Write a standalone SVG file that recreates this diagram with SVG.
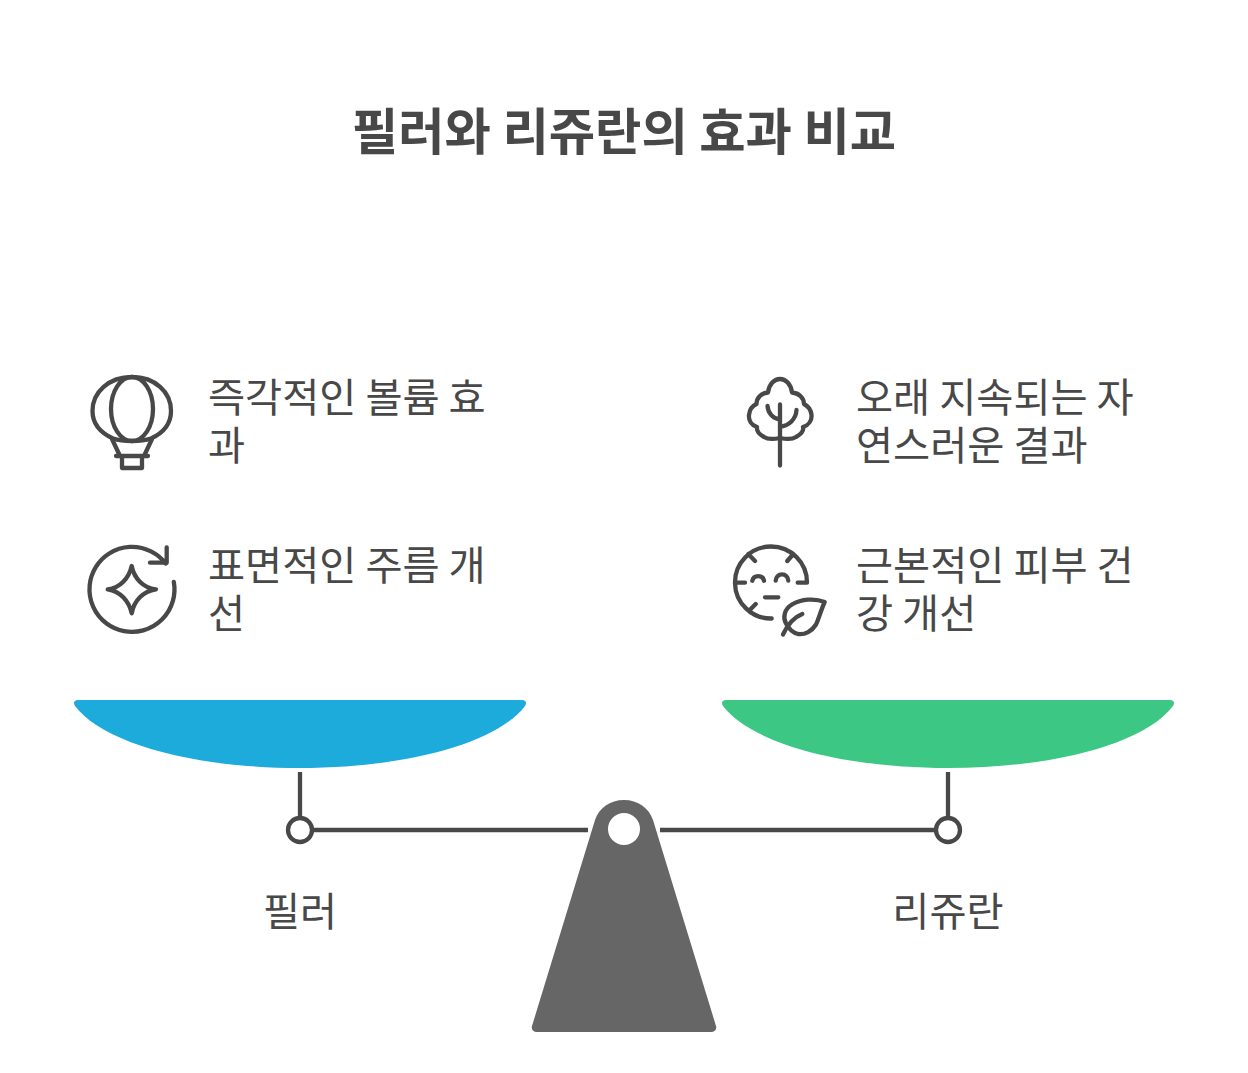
<svg xmlns="http://www.w3.org/2000/svg" width="1248" height="1073" viewBox="0 0 1248 1073">
<style>
text{font-family:"Noto Sans CJK KR","Noto Sans",sans-serif;fill:#484848}
.t{font-size:50.4px;font-weight:700;text-anchor:middle}
.l{font-size:40.32px;font-weight:400}
.c{text-anchor:middle}
.i{fill:none;stroke:#484848;stroke-width:4.3;stroke-linecap:round;stroke-linejoin:round}
.b{fill:none;stroke:#484848;stroke-width:4.3}
</style>
<rect width="1248" height="1073" fill="#fff"/>
<g id="title"><text class="t" x="624" y="149.500">필러와 리쥬란의 효과 비교</text></g>
<g id="connectors">
<path class="b" d="M300 772V818M312 830H588M660 830H936M948 772V818"/>
</g>
<g id="pan-left"><path fill="#1dabdc" d="M78 700H522C526 700 527 703 525 706C498 742 410 768 300 768C190 768 102 742 75 706C73 703 74 700 78 700Z"/></g>
<g id="pan-right"><path fill="#3dc785" d="M726 700H1170C1174 700 1175 703 1173 706C1146 742 1058 768 948 768C838 768 750 742 723 706C721 703 722 700 726 700Z"/></g>
<g id="pivot-left"><circle class="b" cx="300" cy="830" r="12" style="fill:#fff"/></g>
<g id="pivot-right"><circle class="b" cx="948" cy="830" r="12" style="fill:#fff"/></g>
<g id="fulcrum"><path fill="#666" fill-rule="evenodd" d="M595 820C599 808 610 800 624 800C638 800 649 808 653 820L716 1026C717 1029 715 1032 712 1032H536C533 1032 531 1029 532 1026ZM624 813A16 16 0 1 0 624 845A16 16 0 1 0 624 813Z"/></g>
<g id="label-filler"><text class="l c" x="300" y="926">필러</text></g>
<g id="label-rejuran"><text class="l c" x="948" y="925.500">리쥬란</text></g>
<g id="item-volume">
<path class="i" d="M132 377C109 377 92.500 392 92.500 411C92.500 424 101 433 113 438.500C119 440.500 125 441 132 441C139 441 145 440.500 151 438.500C163 433 171 424 171 411C171 392 155 377 132 377Z"/>
<ellipse class="i" cx="132" cy="409" rx="21" ry="32"/>
<path class="i" d="M112 439L120 456M152 439L144 456M116 456H148M122 456V468H142V456"/>
<text class="l" x="208" y="411.500">즉각적인 볼륨 효</text><text class="l" x="208" y="459.500">과</text>
</g>
<g id="item-wrinkle">
<path class="i" d="M173.800 581.800A42.500 42.500 0 1 1 165.700 563.500L166.700 562.700M166.700 547.300V562.700H150"/>
<path class="i" d="M131.700 566C134 578 143 588 156 589.300C143 591 134 601 131.700 613.300C129 601 120 591 107.700 589.300C120 588 129 578 131.700 566Z"/>
<text class="l" x="208" y="580">표면적인 주름 개</text><text class="l" x="208" y="628">선</text>
</g>
<g id="item-natural">
<path class="i" d="M780 438C775 439 768.500 440 764 437C758.500 434 756.500 431 757 427C751 425 748.500 420 749 415C749.500 410 752 406 756.500 404C756.500 398 761 393 768 392.500C769 384 774.500 379 780 379C785.500 379 791 384 792 392.500C799 393 804 398 804 404C808 406 811 410 811.500 415C812 420 809 425 803 427C804 431 801.500 434 796 437C791.500 440 785 439 780 438Z"/>
<path class="i" d="M780 404.500V465.500M767.500 406C768 413 773 419 780 419.500M796.500 410C796 419 789 426 780 426.500"/>
<text class="l" x="856" y="411.500">오래 지속되는 자</text><text class="l" x="856" y="459.500">연스러운 결과</text>
</g>
<g id="item-health">
<path class="i" d="M807 582.700A36 36 0 1 0 771.700 618.500M736.700 582.700H745M797.700 582.700H806.700M748.300 554L755 561M793.300 554L787.300 561M755.700 604L749 610.700M752.300 580.700A6 6 0 0 1 764 580.700M775.700 580.700A6.300 6.300 0 0 1 788.300 580.700M765 597.300H778.300"/>
<path class="i" d="M824.700 602C815 598 801 599 792 604.500C784.500 609 782.500 617 786 623.500C789 629 793 633 798 634C805 635 812 631 816 624.500C819 618 821 610 824.700 602Z"/>
<path class="i" d="M783 634.500C786 628 792 618 802.300 614"/>
<text class="l" x="856" y="580">근본적인 피부 건</text><text class="l" x="856" y="628">강 개선</text>
</g>
</svg>
